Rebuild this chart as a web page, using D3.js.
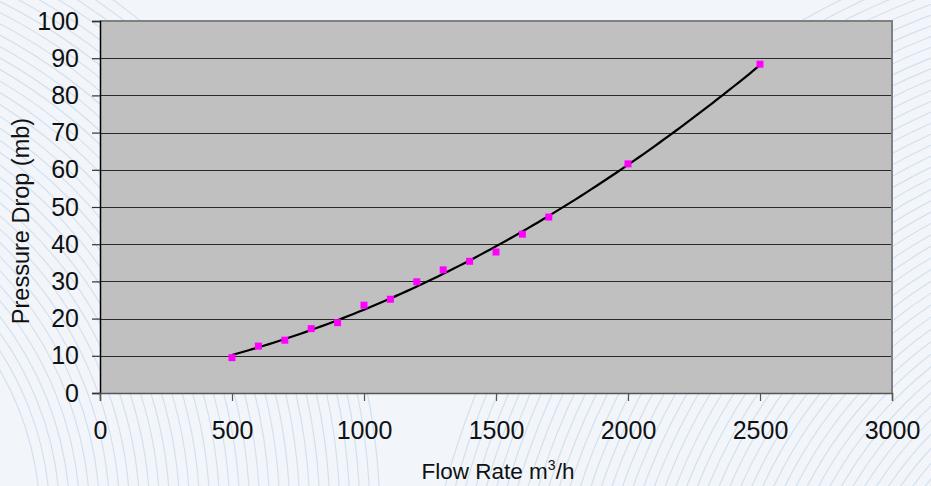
<!DOCTYPE html>
<html>
<head>
<meta charset="utf-8">
<script src="https://cdn.jsdelivr.net/npm/d3@7"></script>
<style>
  html, body { margin: 0; padding: 0; background: #f2f6fb; }
  svg { display: block; font-family: "Liberation Sans", Arial, sans-serif; }
</style>
</head>
<body>
<svg id="chart" width="931" height="486"></svg>
<script>
// ---- data ----
const flowRate = [500, 600, 700, 800, 900, 1000, 1100, 1200, 1300, 1400, 1500, 1600, 1700, 2000, 2500];
const pressureDrop = [9.5, 12.6, 14.2, 17.3, 18.9, 23.6, 25.2, 29.9, 33.1, 35.4, 37.9, 42.7, 47.3, 61.6, 88.4];
const xTicks = [0, 500, 1000, 1500, 2000, 2500, 3000];
const yTicks = [0, 10, 20, 30, 40, 50, 60, 70, 80, 90, 100];
const xTitle = "Flow Rate m";
const xTitleSup = "3";
const xTitleEnd = "/h";
const yTitle = "Pressure Drop (mb)";

const W = 931, H = 486;
const svg = d3.select("#chart");

// ---- decorative background ripples ----
const bg = svg.append("g");
bg.append("rect").attr("width", W).attr("height", H).attr("fill", "#f2f6fb");
const ripple = (cx, cy, r0, r1, step) => {
  for (let r = r0; r <= r1; r += step) {
    bg.append("circle").attr("cx", cx).attr("cy", cy).attr("r", r)
      .attr("fill", "none").attr("stroke", "#d3e0ee").attr("stroke-width", 1.2);
  }
};
ripple(-260, 520, 300, 640, 10);
ripple(1180, 680, 250, 760, 10);

// ---- scales ----
const x = d3.scaleLinear().domain([0, 3000]).range([100, 892]);
const y = d3.scaleLinear().domain([0, 100]).range([393, 21]);

// plot area
svg.append("rect")
  .attr("x", x(0)).attr("y", y(100))
  .attr("width", x(3000) - x(0)).attr("height", y(0) - y(100))
  .attr("fill", "#c0c0c0");

// gridlines
svg.append("g").selectAll("line").data(yTicks.filter(d => d > 0 && d < 100)).join("line")
  .attr("x1", x(0)).attr("x2", x(3000))
  .attr("y1", d => Math.round(y(d)) + 0.5).attr("y2", d => Math.round(y(d)) + 0.5)
  .attr("stroke", "#2a2a2a").attr("stroke-width", 1.2);

// top & right border
svg.append("path")
  .attr("d", `M${x(0)},${y(100)}H${x(3000)}V${y(0)}`)
  .attr("fill", "none").attr("stroke", "#808080").attr("stroke-width", 2);

// axes
const yAxis = d3.axisLeft(y).tickValues(yTicks).tickSize(8).tickPadding(13).tickFormat(d3.format("d"));
const gy = svg.append("g").attr("transform", `translate(${x(0)},0)`).call(yAxis);
gy.select(".domain").attr("stroke", "#000").attr("stroke-width", 1.5);
gy.selectAll(".tick line").attr("stroke", "#333").attr("stroke-width", 1.2);
gy.selectAll(".tick text").attr("font-size", 25).attr("fill", "#111")
  .attr("font-family", "Liberation Sans, Arial, sans-serif");

const xAxis = d3.axisBottom(x).tickValues(xTicks).tickSize(8).tickPadding(20).tickFormat(d3.format("d"));
const gx = svg.append("g").attr("transform", `translate(0,${y(0)})`).call(xAxis);
gx.select(".domain").attr("stroke", "#555").attr("stroke-width", 1.5);
gx.selectAll(".tick line").attr("stroke", "#555").attr("stroke-width", 1.2);
gx.selectAll(".tick text").attr("font-size", 25).attr("fill", "#111")
  .attr("font-family", "Liberation Sans, Arial, sans-serif");

// ---- trendline: least-squares quadratic fit of the data ----
function quadFit(xs, ys) {
  let n = xs.length, s = [0,0,0,0,0], t = [0,0,0];
  for (let i = 0; i < n; i++) {
    const xi = xs[i] / 1000, yi = ys[i];
    let p = 1;
    for (let k = 0; k < 5; k++) { s[k] += p; if (k < 3) t[k] += p * yi; p *= xi; }
  }
  const A = [[s[0], s[1], s[2], t[0]], [s[1], s[2], s[3], t[1]], [s[2], s[3], s[4], t[2]]];
  for (let i = 0; i < 3; i++) {
    for (let j = i + 1; j < 3; j++) {
      const f = A[j][i] / A[i][i];
      for (let k = i; k < 4; k++) A[j][k] -= f * A[i][k];
    }
  }
  const c = [0, 0, 0];
  for (let i = 2; i >= 0; i--) {
    let v = A[i][3];
    for (let k = i + 1; k < 3; k++) v -= A[i][k] * c[k];
    c[i] = v / A[i][i];
  }
  return xv => { const u = xv / 1000; return c[0] + c[1] * u + c[2] * u * u; };
}
const fit = quadFit(flowRate, pressureDrop);
const xMin = d3.min(flowRate), xMax = d3.max(flowRate);
const trendPts = d3.range(0, 101).map(i => xMin + (xMax - xMin) * i / 100);
svg.append("path")
  .datum(trendPts)
  .attr("d", d3.line().x(d => x(d)).y(d => y(fit(d))))
  .attr("fill", "none").attr("stroke", "#000").attr("stroke-width", 2.2);

// ---- markers ----
const pts = flowRate.map((f, i) => ({ f, p: pressureDrop[i] }));
svg.append("g").selectAll("rect").data(pts).join("rect")
  .attr("x", d => x(d.f) - 3.5).attr("y", d => y(d.p) - 3.5)
  .attr("width", 7).attr("height", 7)
  .attr("fill", "#ff00ff");

// ---- titles ----
const xt = svg.append("text")
  .attr("x", (x(0) + x(3000)) / 2 + 2).attr("y", 479)
  .attr("text-anchor", "middle").attr("font-size", 22.5).attr("fill", "#111");
xt.append("tspan").text(xTitle);
xt.append("tspan").attr("font-size", 14).attr("dy", -9).text(xTitleSup);
xt.append("tspan").attr("dy", 9).text(xTitleEnd);

svg.append("text")
  .attr("transform", `translate(29,${221}) rotate(-90)`)
  .attr("text-anchor", "middle").attr("font-size", 23.5).attr("fill", "#111")
  .text(yTitle);
</script>
</body>
</html>
